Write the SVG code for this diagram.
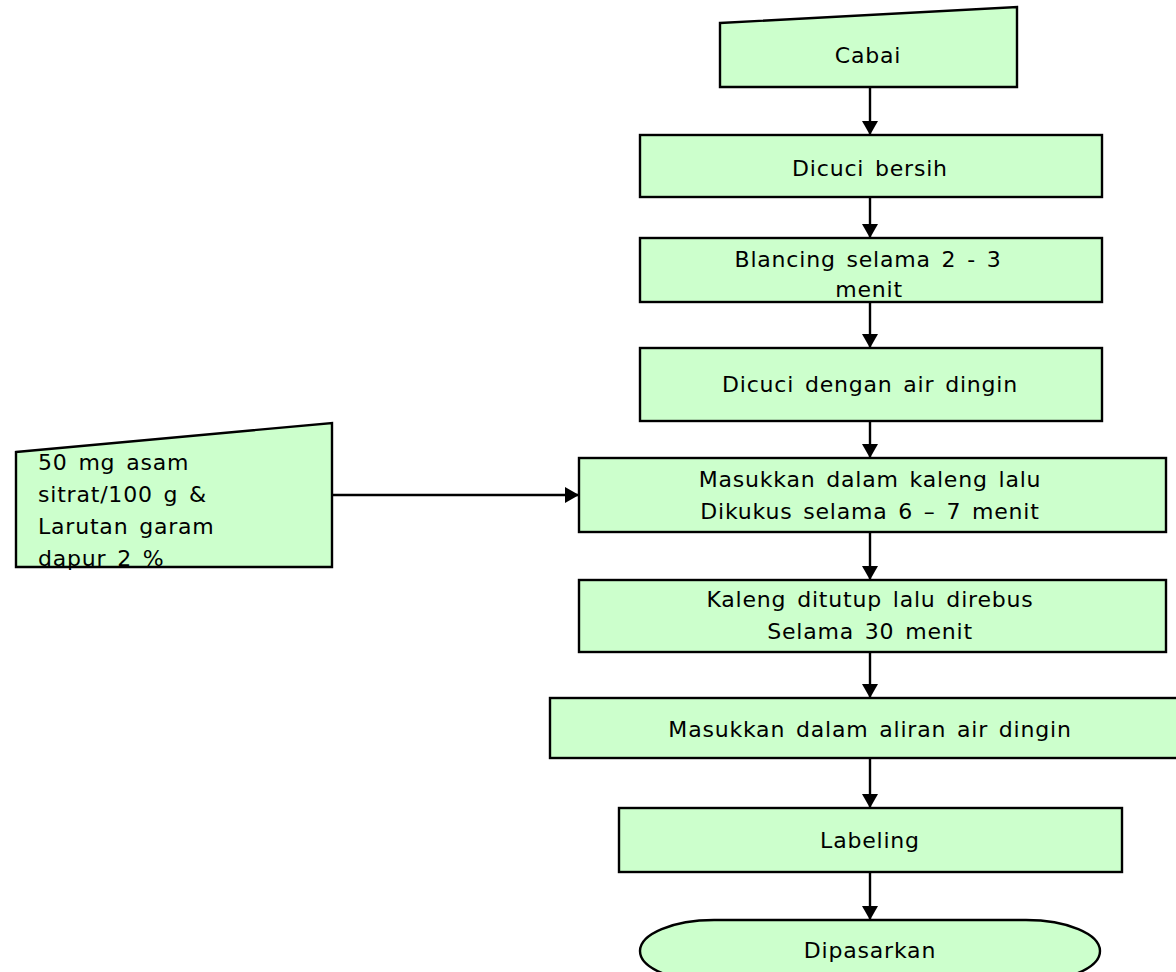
<svg xmlns="http://www.w3.org/2000/svg" width="1176" height="972" viewBox="0 0 1176 972">
<defs>
<marker id="arrow" markerUnits="userSpaceOnUse" viewBox="0 0 14 16" refX="14" refY="8" markerWidth="14" markerHeight="16" orient="auto">
<path d="M0,0 L14,8 L0,16 Z" fill="#000"/>
</marker>
<style>
.box{fill:#CCFFCC;stroke:#000;stroke-width:2.4}
.lbl{font-family:"DejaVu Sans","Liberation Sans",sans-serif;font-size:22px;fill:#000;letter-spacing:0.8px;word-spacing:3px}
.c{text-anchor:middle}
.conn{stroke:#000;stroke-width:2.4;fill:none;marker-end:url(#arrow)}
</style>
</defs>
<rect width="1176" height="972" fill="#fff"/>
<g id="connectors">
<line class="conn" x1="870" y1="87" x2="870" y2="135"/>
<line class="conn" x1="870" y1="197" x2="870" y2="238"/>
<line class="conn" x1="870" y1="302" x2="870" y2="348"/>
<line class="conn" x1="870" y1="421" x2="870" y2="458"/>
<line class="conn" x1="870" y1="532" x2="870" y2="580"/>
<line class="conn" x1="870" y1="652" x2="870" y2="698"/>
<line class="conn" x1="870" y1="758" x2="870" y2="808"/>
<line class="conn" x1="870" y1="866" x2="870" y2="920"/>
<line class="conn" x1="327" y1="495" x2="579" y2="495"/>
</g>
<g id="cabai">
<polygon class="box" points="720,23 1017,7 1017,87 720,87"/>
<text class="lbl c" x="868" y="63">Cabai</text>
</g>
<g id="dicuci-bersih">
<rect class="box" x="640" y="135" width="462" height="62"/>
<text class="lbl c" x="870" y="176">Dicuci bersih</text>
</g>
<g id="blancing">
<rect class="box" x="640" y="238" width="462" height="64"/>
<text class="lbl c" x="868" y="267">Blancing selama 2 - 3</text>
<text class="lbl c" x="869" y="297">menit</text>
</g>
<g id="dicuci-dingin">
<rect class="box" x="640" y="348" width="462" height="73"/>
<text class="lbl c" x="870" y="392">Dicuci dengan air dingin</text>
</g>
<g id="bahan">
<polygon class="box" points="16,452 332,423 332,567 16,567"/>
<text class="lbl" x="38" y="470">50 mg asam</text>
<text class="lbl" x="38" y="502">sitrat/100 g &amp;</text>
<text class="lbl" x="38" y="534">Larutan garam</text>
<text class="lbl" x="38" y="566">dapur 2 %</text>
</g>
<g id="masukkan-kaleng">
<rect class="box" x="579" y="458" width="587" height="74"/>
<text class="lbl c" x="870" y="487">Masukkan dalam kaleng lalu</text>
<text class="lbl c" x="870" y="519">Dikukus selama 6 – 7 menit</text>
</g>
<g id="kaleng-ditutup">
<rect class="box" x="579" y="580" width="587" height="72"/>
<text class="lbl c" x="870" y="607">Kaleng ditutup lalu direbus</text>
<text class="lbl c" x="870" y="639">Selama 30 menit</text>
</g>
<g id="aliran-air">
<rect class="box" x="550" y="698" width="640" height="60"/>
<text class="lbl c" x="870" y="737">Masukkan dalam aliran air dingin</text>
</g>
<g id="labeling">
<rect class="box" x="619" y="808" width="503" height="64"/>
<text class="lbl c" x="870" y="848">Labeling</text>
</g>
<g id="dipasarkan">
<path class="box" d="M714,920 H1026 A74,31 0 0 1 1026,982 H714 A74,31 0 0 1 714,920 Z"/>
<text class="lbl c" x="870" y="958">Dipasarkan</text>
</g>
</svg>
